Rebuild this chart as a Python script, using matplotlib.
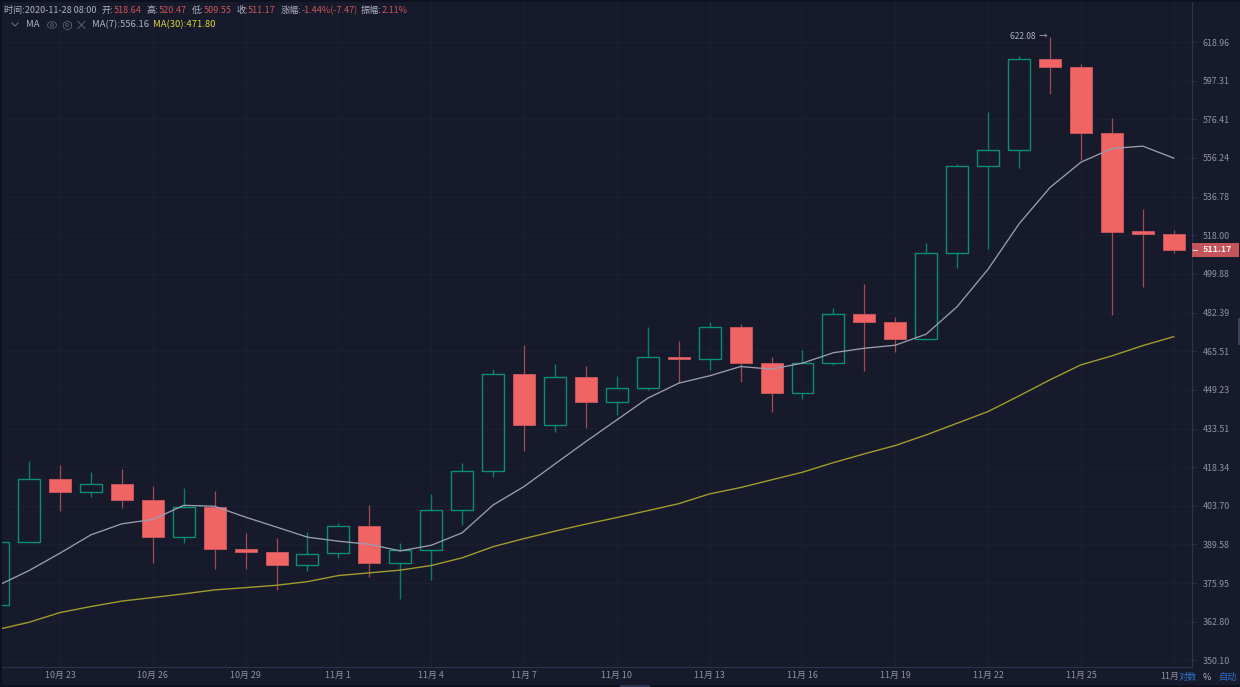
import matplotlib
matplotlib.use("Agg")
import matplotlib.pyplot as plt
from matplotlib.patches import Rectangle, Circle, Ellipse
from matplotlib.ticker import NullLocator

plt.rcParams['font.family'] = ['Noto Sans CJK SC', 'DejaVu Sans']

# daily candles, 10/21 .. 11/28
opens = [368.42, 390.40, 413.75, 409.05, 412.09, 405.80, 392.44, 403.28, 388.10, 387.04,
         382.25, 386.48, 396.24, 383.16, 387.75, 402.08, 416.79, 455.64, 434.82, 454.38,
         444.31, 450.04, 463.22, 462.25, 476.23, 460.69, 447.85, 460.44, 481.91, 478.15,
         470.98, 509.70, 552.37, 560.25, 609.08, 605.10, 569.44, 519.90, 518.64]
highs = [392.00, 420.66, 419.32, 416.52, 417.54, 411.10, 410.34, 409.32, 393.68, 392.07,
         394.05, 397.55, 404.13, 390.03, 408.07, 419.99, 458.16, 468.10, 460.14, 459.30,
         455.09, 476.10, 470.10, 478.15, 477.54, 463.09, 466.06, 484.47, 495.20, 480.47,
         514.39, 553.07, 580.21, 611.15, 622.08, 606.50, 577.14, 530.78, 520.47]
lows = [366.00, 390.40, 401.71, 406.93, 402.81, 383.06, 390.03, 381.05, 381.05, 373.62,
        380.34, 384.72, 378.02, 370.56, 377.07, 396.60, 414.74, 424.70, 432.16, 433.85,
        439.01, 449.19, 452.02, 457.32, 452.31, 440.36, 445.65, 459.85, 457.07, 465.05,
        470.85, 502.80, 511.72, 551.06, 589.74, 555.23, 481.47, 493.84, 509.55]
closes = [390.40, 413.75, 409.05, 412.09, 405.80, 392.44, 403.28, 387.99, 386.83, 382.25,
          386.34, 396.24, 383.06, 387.75, 402.08, 416.79, 455.64, 434.82, 454.38, 444.31,
          450.04, 463.22, 462.25, 476.23, 460.69, 447.85, 460.44, 481.91, 478.15, 470.98,
          509.70, 552.37, 560.25, 609.08, 605.00, 569.44, 519.60, 518.47, 511.17]
ma7 = [375.15, 380.34, 386.48, 393.06, 397.08, 398.65, 403.90, 403.54, 399.52, 395.87,
       392.22, 390.76, 389.65, 387.29, 389.30, 393.80, 404.02, 410.95, 419.60, 428.35,
       436.98, 445.81, 452.02, 455.09, 459.00, 457.90, 460.44, 464.88, 466.79, 468.10,
       472.91, 485.06, 502.05, 523.49, 541.30, 554.08, 561.09, 562.34, 556.16]
ma30 = [360.27, 362.64, 365.90, 367.94, 369.78, 371.00, 372.26, 373.62, 374.40, 375.22,
        376.47, 378.59, 379.54, 380.49, 382.11, 384.82, 388.80, 391.71, 394.41, 396.97,
        399.38, 401.93, 404.51, 408.18, 410.57, 413.49, 416.41, 420.11, 423.52, 426.78,
        430.98, 435.64, 440.36, 446.75, 453.41, 459.72, 463.51, 467.93, 471.80]

price_ticks = [618.96, 597.31, 576.41, 556.24, 536.78, 518.00, 499.88, 482.39, 465.51,
               449.23, 433.51, 418.34, 403.70, 389.58, 375.95, 362.80, 350.10]
date_ticks = [2, 5, 8, 11, 14, 17, 20, 23, 26, 29, 32, 35, 38]
date_labels = ['10月 23', '10月 26', '10月 29', '11月 1', '11月 4', '11月 7', '11月 10',
               '11月 13', '11月 16', '11月 19', '11月 22', '11月 25', '']

BG = '#161a2b'
GRID = '#1b2032'
AXIS = '#2a3350'
TICK = '#8e92a6'
RED = '#f16464'
RED_EDGE = '#c4565c'
RED_WICK = '#a34a52'
GREEN = '#0b8f74'
GREEN_WICK = '#0a8069'
LABEL = '#aeb1c0'
RED_TXT = '#c9565c'
YELLOW = '#dcd83e'
BLUE = '#2f74cc'
FS = 6.55
TICK_FS = 6.4

fig = plt.figure(figsize=(12.4, 6.87), dpi=100, facecolor=BG)
ax = fig.add_axes([2 / 1240, 1 - 667 / 687, 1190.3 / 1240, 665 / 687], facecolor=BG)
ax.set_yscale('log')
ax.set_xlim(0.126, 38.6)
ax.set_ylim(348.0, 642.2)

ax.yaxis.tick_right()
ax.set_yticks(price_ticks)
ax.set_yticklabels(['%.2f' % p for p in price_ticks], fontweight='medium')
ax.yaxis.set_minor_locator(NullLocator())
ax.set_xticks(date_ticks)
ax.set_xticklabels(date_labels, fontweight='medium')
ax.tick_params(axis='y', colors=TICK, labelsize=TICK_FS, length=3, width=0.6, color=AXIS, pad=4.5)
ax.tick_params(axis='x', colors=TICK, labelsize=TICK_FS, length=0, pad=3)
for lab in ax.get_xticklabels():
    lab.set_color(TICK)
ax.grid(True, color=GRID, lw=0.7)
ax.set_axisbelow(True)
for s in ['top', 'left']:
    ax.spines[s].set_visible(False)
for s in ['right', 'bottom']:
    ax.spines[s].set_color(AXIS)
    ax.spines[s].set_linewidth(0.8)

for i in range(len(opens)):
    o, h, l, c = opens[i], highs[i], lows[i], closes[i]
    top, bot = max(o, c), min(o, c)
    if c >= o:
        ax.vlines(i, top, h, color=GREEN_WICK, lw=1.0, zorder=2)
        ax.vlines(i, l, bot, color=GREEN_WICK, lw=1.0, zorder=2)
        ax.bar(i, top - bot, bottom=bot, width=0.71, facecolor='none',
               edgecolor=GREEN, lw=1.0, zorder=3)
    else:
        ax.vlines(i, l, h, color=RED_WICK, lw=0.9, zorder=2)
        ax.bar(i, top - bot, bottom=bot, width=0.71, facecolor=RED,
               edgecolor=RED_EDGE, lw=0.7, zorder=3)

x = list(range(len(ma7)))
ax.plot(x, ma7, color='#9a9db0', lw=0.95, zorder=4)
ax.plot(x, ma30, color='#a09c2e', lw=1.0, zorder=4)

ax.annotate('622.08  →', xy=(34, 622.08), xytext=(-2, 0), textcoords='offset points',
            ha='right', va='center', fontsize=6.0, color=LABEL, fontweight='medium')

# overlay in pixel coordinates for the screen chrome
ov = fig.add_axes([0, 0, 1, 1], facecolor='none')
ov.set_xlim(0, 1240)
ov.set_ylim(687, 0)
ov.axis('off')

ov.add_patch(Rectangle((0, 0), 1240, 1.5, color='#0e1220', lw=0))
ov.add_patch(Rectangle((0, 0), 1.7, 687, color='#0e1220', lw=0))
ov.add_patch(Rectangle((0, 685), 1240, 2, color='#0e1220', lw=0))
ov.add_patch(Rectangle((620, 684.5), 30, 2.5, color='#2a3352', lw=0))
ov.add_patch(Rectangle((1237.5, 318), 2.5, 27, color='#3a4258', lw=0))

# header, first row
header = [(4.5, '时间:2020-11-28 08:00', LABEL), (102, '开:', LABEL), (114, '518.64', RED_TXT),
          (146, '高:', LABEL), (158.5, '520.47', RED_TXT), (191.5, '低:', LABEL),
          (203.5, '509.55', RED_TXT), (236.5, '收:', LABEL), (248, '511.17', RED_TXT),
          (281, '涨幅:', LABEL), (302, '-1.44%(-7.47)', RED_TXT), (360.5, '振幅:', LABEL),
          (382, '2.11%', RED_TXT)]
for hx, txt, col in header:
    ov.text(hx, 10.5, txt, color=col, fontsize=FS, va='center', ha='left', fontweight='medium')

# header, indicator row
ov.plot([12, 15, 18], [23, 26, 23], color='#6f7386', lw=0.7)
ov.text(26, 24.7, 'MA', color=LABEL, fontsize=6.8, va='center', ha='left', fontweight='medium')
ov.add_patch(Ellipse((52, 25), 9, 6.5, fill=False, ec='#5a5e72', lw=0.6))
ov.add_patch(Circle((52, 25), 1.4, fill=False, ec='#5a5e72', lw=0.6))
ov.plot([67], [25], marker='h', ms=6.5, mfc='none', mec='#5a5e72', mew=0.6)
ov.add_patch(Circle((67, 25), 1.4, fill=False, ec='#5a5e72', lw=0.6))
ov.plot([78, 85], [21.5, 28.5], color='#5a5e72', lw=0.7)
ov.plot([78, 85], [28.5, 21.5], color='#5a5e72', lw=0.7)
ov.text(91.7, 24.7, 'MA(7):556.16', color=LABEL, fontsize=6.8, va='center', ha='left', fontweight='medium')
ov.text(153, 24.7, 'MA(30):471.80', color=YELLOW, fontsize=6.8, va='center', ha='left', fontweight='medium')

# last price tag
ov.add_patch(Rectangle((1192, 242.5), 47, 14.5, color='#c2545a', lw=0))
ov.plot([1193, 1197], [249.7, 249.7], color='#f0e0e0', lw=0.8)
ov.text(1203, 249.7, '%.2f' % closes[-1], color='#f4ecec', fontsize=TICK_FS, fontweight='bold',
        va='center', ha='left')

# bottom row: the last date label is cut by the 对数 button
ov.text(1160, 676.5, '11月', color=TICK, fontsize=TICK_FS, va='center', ha='left', fontweight='medium')
ov.text(1178.5, 677, '对数', color=BLUE, fontsize=FS, va='center', ha='left', fontweight='medium')
ov.text(1207, 677, '%', color=LABEL, fontsize=FS, va='center', ha='center', fontweight='medium')
ov.text(1219, 677, '自动', color=BLUE, fontsize=FS, va='center', ha='left', fontweight='medium')

fig.savefig('out.png', dpi=100, facecolor=BG)
